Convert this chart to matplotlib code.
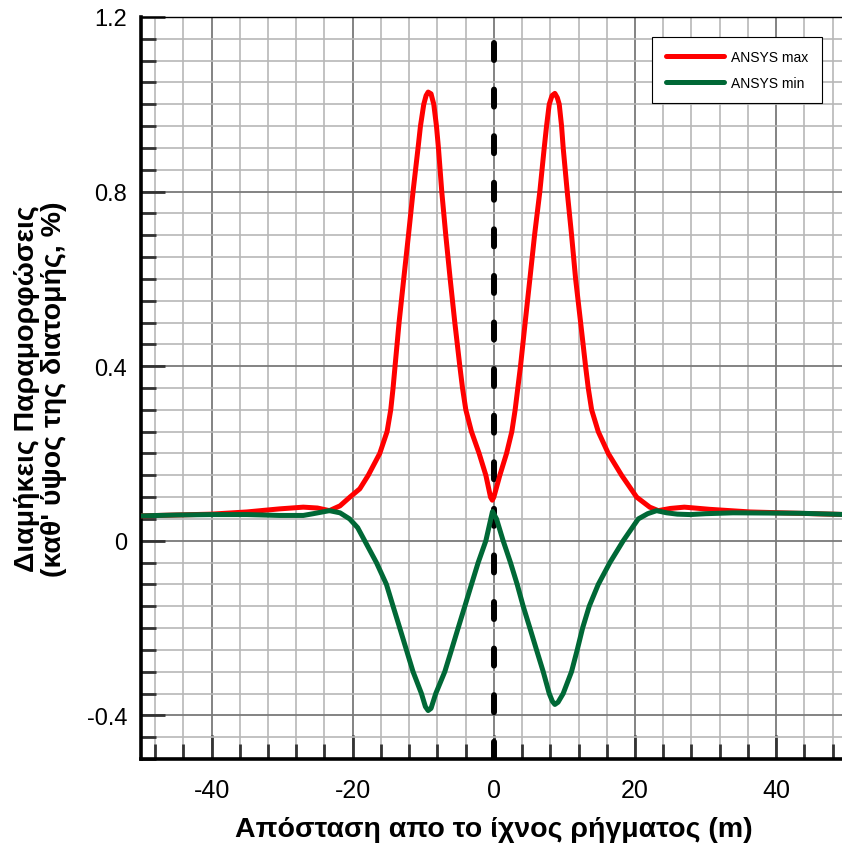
import matplotlib
matplotlib.use("Agg")
import matplotlib.pyplot as plt
from matplotlib.ticker import MultipleLocator, FixedLocator

plt.rcParams['font.family'] = ['Liberation Sans', 'DejaVu Sans']
plt.rcParams['axes.unicode_minus'] = False

# ANSYS max strain along the section (distance in m, strain in %)
x_max = [-50, -45, -40, -35, -30.4, -27, -25, -23.3, -21.8, -20.4, -19.0, -17.8, -16.17,
         -15.13, -14.61, -14.28, -14.0, -13.43, -12.77, -12.1, -11.45, -10.74, -10.40,
         -9.93, -9.6, -9.31, -8.9, -8.51, -8.13, -7.85, -7.38, -6.81, -6.19, -5.53, -4.82,
         -4.44, -3.97, -3.17, -2.08, -1.13, -0.47, -0.22, 0.0, 0.85, 1.8, 2.55, 3.02, 3.40,
         3.78, 4.44, 5.11, 5.77, 6.52, 7.14, 7.47, 7.85, 8.25, 8.65, 9.0, 9.27, 9.60, 9.83,
         10.40, 11.02, 11.59, 12.30, 13.0, 13.38, 13.86, 14.80, 16.22, 18.11, 20.24, 22.1,
         23.3, 25, 27, 30.6, 36.3, 43, 50]
y_max = [0.057, 0.059, 0.061, 0.066, 0.073, 0.077, 0.075, 0.069, 0.080, 0.1, 0.119, 0.15, 0.2,
         0.25, 0.3, 0.35, 0.4, 0.5, 0.6, 0.7, 0.8, 0.9, 0.95,
         1.0, 1.02, 1.028, 1.024, 1.0, 0.95, 0.9, 0.8, 0.7, 0.6, 0.5, 0.4,
         0.35, 0.3, 0.25, 0.2, 0.15, 0.1, 0.093, 0.1, 0.15, 0.2, 0.25, 0.3, 0.35,
         0.4, 0.5, 0.6, 0.7, 0.8, 0.9, 0.95, 1.0, 1.02, 1.025, 1.015, 1.0, 0.95, 0.9,
         0.8, 0.7, 0.6, 0.5, 0.4, 0.35, 0.3, 0.25, 0.2, 0.15, 0.1, 0.077,
         0.069, 0.074, 0.077, 0.072, 0.066, 0.063, 0.060]

# ANSYS min strain along the section
x_min = [-50, -45, -40, -35, -30.4, -27, -25.6, -23.3, -21.8, -20.43, -19.3, -18.30, -16.64,
         -15.22, -14.28, -13.33, -12.39, -11.45, -10.26, -9.7, -9.31, -8.9, -8.23, -6.95,
         -6.00, -5.06, -4.11, -3.17, -2.22, -1.13, -0.43, -0.19, 0.38, 1.32, 2.36, 3.31,
         4.16, 5.11, 6.05, 7.0, 7.85, 8.3, 8.65, 9.1, 9.83, 11.01, 11.82, 12.58, 13.52,
         14.80, 16.45, 18.34, 20.47, 21.8, 23.07, 24.5, 26, 27.8, 30, 33.9, 43.4, 50]
y_min = [0.057, 0.059, 0.060, 0.060, 0.058, 0.058, 0.062, 0.069, 0.064, 0.05, 0.03, 0.0, -0.05,
         -0.1, -0.15, -0.2, -0.25, -0.3, -0.35, -0.38, -0.389, -0.384, -0.35, -0.3,
         -0.25, -0.2, -0.15, -0.1, -0.05, 0.0, 0.05, 0.067, 0.05, 0.0, -0.05, -0.1,
         -0.15, -0.2, -0.25, -0.3, -0.35, -0.368, -0.375, -0.37, -0.35, -0.3, -0.25, -0.2, -0.15,
         -0.1, -0.05, 0.0, 0.05, 0.062, 0.069, 0.064, 0.061, 0.060, 0.062, 0.064, 0.063, 0.060]

# fault trace
fault_x = [0, 0]
fault_y = [1.14, -0.5]

xticks = [-40, -20, 0, 20, 40]
yticks = [-0.4, 0, 0.4, 0.8, 1.2]
ytick_labels = ['-0.4', '0', '0.4', '0.8', '1.2']

fig = plt.figure(figsize=(8.42, 8.45), dpi=100)
ax = fig.add_axes([0.1675, 0.1006, 0.838, 0.8781])

ax.set_xlim(-50, 50)
ax.set_ylim(-0.5, 1.2)

ax.xaxis.set_major_locator(FixedLocator(xticks))
ax.xaxis.set_minor_locator(MultipleLocator(4))
ax.yaxis.set_major_locator(FixedLocator(yticks))
ax.yaxis.set_minor_locator(MultipleLocator(0.05))
ax.set_yticklabels(ytick_labels)

ax.grid(which='minor', color='#b8b8b8', linewidth=1.2)
ax.grid(which='major', color='#7a7a7a', linewidth=1.3)
ax.set_axisbelow(True)

ax.tick_params(which='both', direction='in', color='#333333', width=2,
               top=False, right=False)
ax.tick_params(which='major', length=17)
ax.tick_params(which='minor', length=11)
ax.tick_params(axis='x', labelsize=18, pad=14)
ax.tick_params(axis='y', labelsize=17, pad=10)

for side in ['left', 'bottom']:
    ax.spines[side].set_linewidth(2.6)
ax.spines['top'].set_linewidth(1.0)
ax.spines['right'].set_visible(False)

ax.plot(fault_x, fault_y, color='black', linewidth=4.3,
        linestyle=(0, (2.85, 4.95)), dash_capstyle='round', zorder=3)
ax.plot(x_max, y_max, color='#ff0000', linewidth=3.6, label='ANSYS max',
        solid_joinstyle='round', solid_capstyle='round', zorder=4)
ax.plot(x_min, y_min, color='#006836', linewidth=3.6, label='ANSYS min',
        solid_joinstyle='round', solid_capstyle='round', zorder=4)

ax.set_xlabel('Απόσταση απο το ίχνος ρήγματος (m)', fontsize=20.5, fontweight='bold',
              labelpad=10)
ax.set_ylabel('Διαμήκεις Παραμορφώσεις\n(καθ\' ύψος της διατομής, %)', fontsize=20.5,
              fontweight='bold', labelpad=14, linespacing=1.05)

leg = ax.legend(loc='upper right', bbox_to_anchor=(0.965, 0.973), fontsize=10,
                frameon=True, fancybox=False, framealpha=1, edgecolor='black',
                handlelength=4.2, borderpad=0.95, labelspacing=0.85, handletextpad=0.55,
                borderaxespad=0)
leg.get_frame().set_linewidth(0.8)

fig.savefig('out.png', dpi=100)
